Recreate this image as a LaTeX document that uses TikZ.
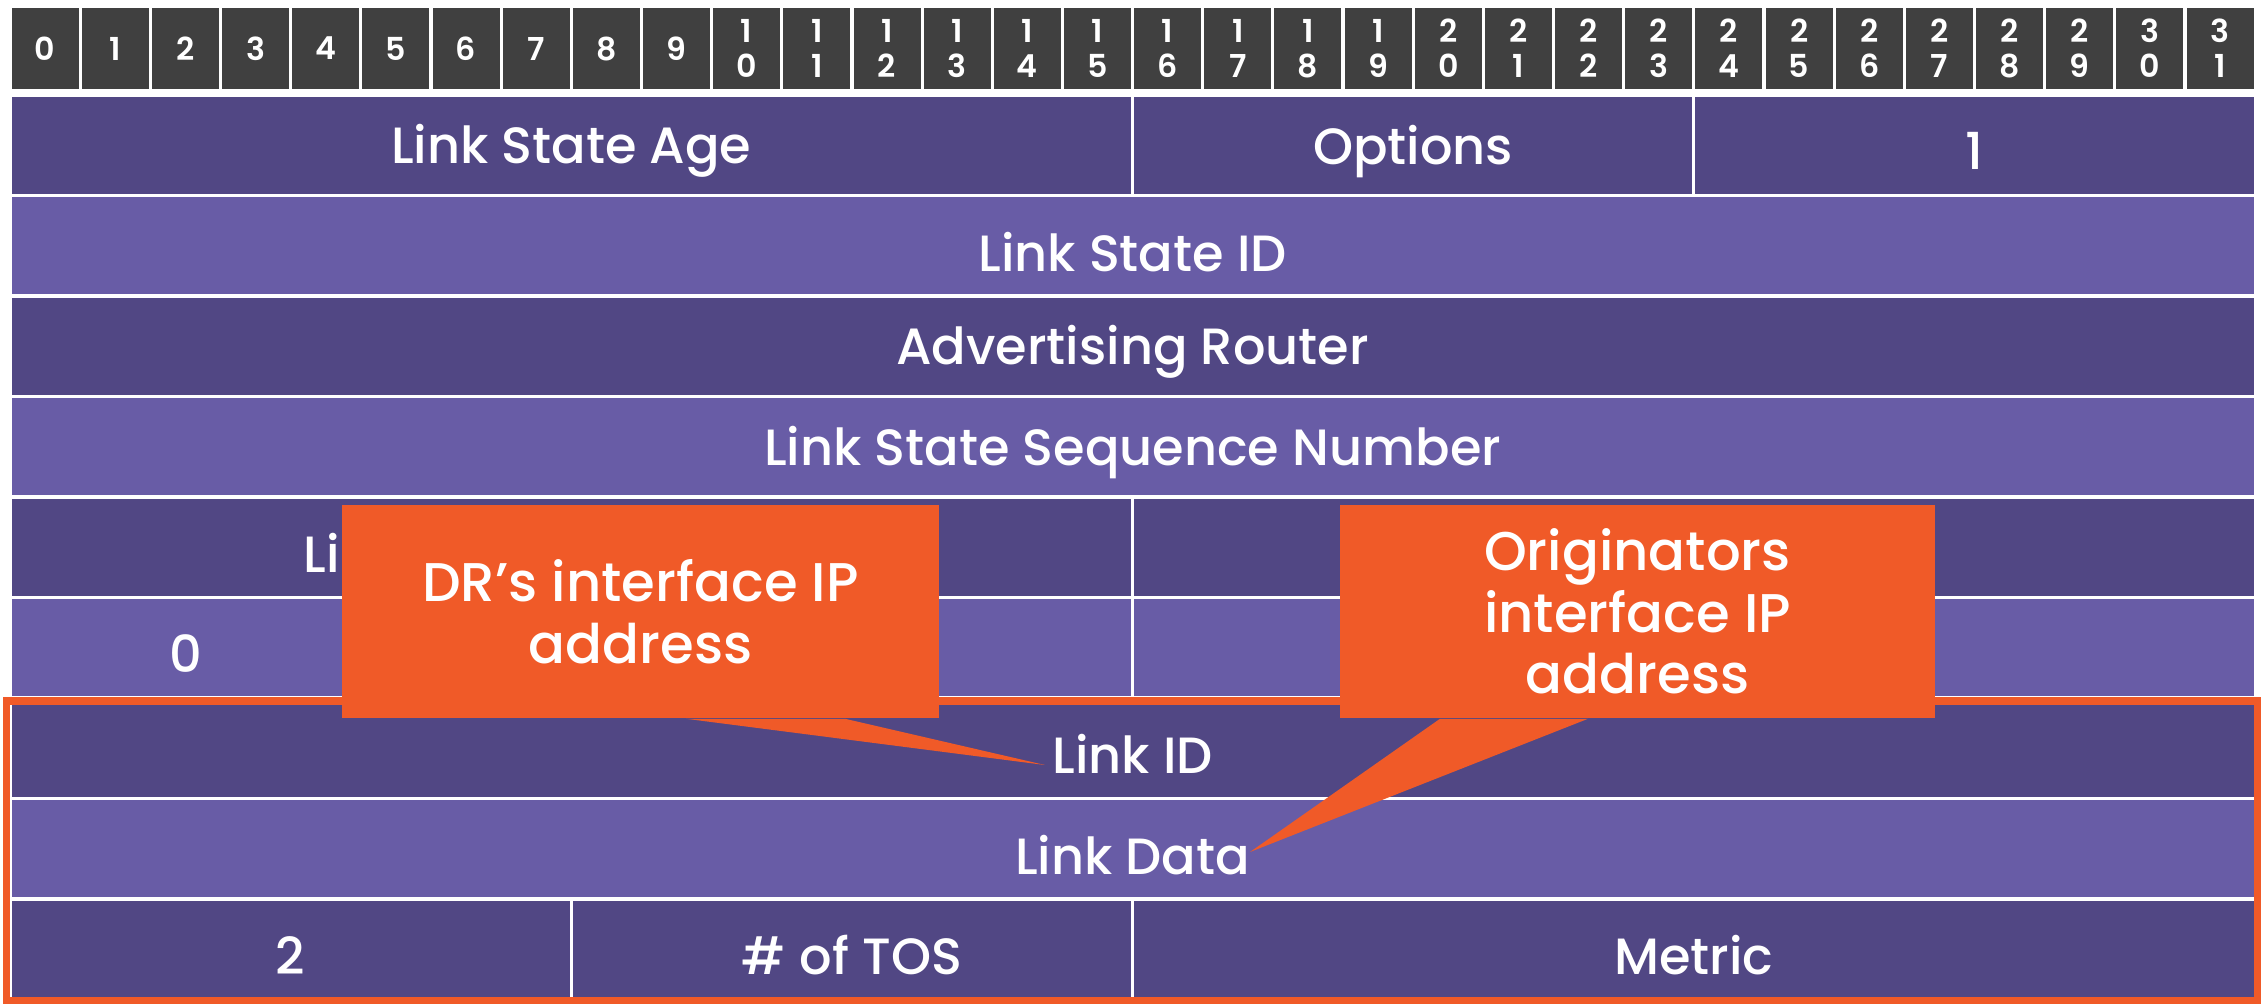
\documentclass[tikz,border=0pt]{standalone}
\usepackage{fontspec}
\setmainfont{Poppins}[UprightFont=* Medium]
\newfontfamily\bitfont{Poppins}[UprightFont=* SemiBold]
\usetikzlibrary{calc}

\definecolor{hdrgrey}{HTML}{404040}
\definecolor{rowdark}{HTML}{514784}
\definecolor{rowlight}{HTML}{685CA6}
\definecolor{notefill}{HTML}{F05A28}

\tikzset{
  bitcell/.style={fill=hdrgrey, draw=white, line width=0.9pt},
  darkrow/.style={fill=rowdark, draw=white, line width=0.9pt},
  lightrow/.style={fill=rowlight, draw=white, line width=0.9pt},
  fieldtext/.style={text=white, yshift=-0.06cm, font=\fontsize{14.5}{17}\selectfont},
  bittext/.style={text=white, font=\bitfont\fontsize{9}{10}\selectfont, align=center},
  callout/.style={fill=notefill},
  notetext/.style={text=white, font=\fontsize{15.5}{17.5}\selectfont, align=center},
}

\begin{document}
\begin{tikzpicture}[x=0.01cm, y=-0.01cm]
  \useasboundingbox (0,0) rectangle (2264,1003);

  %%-- BIT NUMBER HEADER (32 cells, 70.16 wide, y = 6 to 91) --%%
  \foreach \b in {0,...,31} {
    \draw[bitcell] ({10+70.16*\b},6) rectangle ({10+70.16*(\b+1)},91);
  }
  \foreach \b in {0,...,9} {
    \node[bittext] (bit\b) at ({10+70.16*(\b+0.5)},48.5) {\b};
  }
  % two-digit numbers are stacked
  \foreach \b in {10,...,31} {
    \pgfmathtruncatemacro\hi{\b/10}
    \pgfmathtruncatemacro\lo{mod(\b,10)}
    \node[bittext] (bit\b) at ({10+70.16*(\b+0.5)},48.5) {\hi\\\lo};
  }

  %%-- ROW 1 (y = 95 to 195.5) --%%
  \draw[darkrow] (10,95)     rectangle (1132.6,195.5);
  \draw[darkrow] (1132.6,95) rectangle (1693.8,195.5);
  \draw[darkrow] (1693.8,95) rectangle (2255.1,195.5);
  \node[fieldtext] (lsage)   at (571.3,145.25)  {Link State Age};
  \node[fieldtext] (options) at (1413.2,145.25) {Options};
  \node[fieldtext] (lstype)  at (1974.5,145.25) {1};

  %%-- FULL WIDTH ROWS 2 TO 4 --%%
  \draw[lightrow] (10,195.5) rectangle (2255.1,296);
  \node[fieldtext] (lsid) at (1132.6,245.75) {Link State ID};
  \draw[darkrow] (10,296) rectangle (2255.1,396.5);
  \node[fieldtext] (advrtr) at (1132.6,346.25) {Advertising Router};
  \draw[lightrow] (10,396.5) rectangle (2255.1,497);
  \node[fieldtext] (lsseq) at (1132.6,446.75) {Link State Sequence Number};

  %%-- ROW 5 (y = 497 to 597.5) --%%
  \draw[darkrow] (10,497)     rectangle (1132.6,597.5);
  \draw[darkrow] (1132.6,497) rectangle (2255.1,597.5);
  \node[fieldtext] (lscksum) at (571.3,547.25) {Link State Checksum};

  %%-- ROW 6 (y = 597.5 to 698) --%%
  \draw[lightrow] (10,597.5)     rectangle (1132.6,698);
  \draw[lightrow] (1132.6,597.5) rectangle (2255.1,698);
  \node[fieldtext] (zero) at (185.4,647.75) {0};

  %%-- LINK ENTRY (rows 7 to 9) --%%
  \draw[darkrow] (10,698) rectangle (2255.1,798.5);
  \node[fieldtext] (linkid) at (1132.6,748.25) {Link ID};
  \draw[lightrow] (10,798.5) rectangle (2255.1,899);
  \node[fieldtext] (linkdata) at (1132.6,848.75) {Link Data};
  \draw[darkrow] (10,899)     rectangle (571.3,999.5);
  \draw[darkrow] (571.3,899)  rectangle (1132.6,999.5);
  \draw[darkrow] (1132.6,899) rectangle (2255.1,999.5);
  \node[fieldtext] (ltype)  at (290.6,949.25)  {2};
  \node[fieldtext] (numtos) at (851.9,949.25)  {\# of TOS};
  \node[fieldtext] (metric) at (1693.8,949.25) {Metric};

  % orange frame round the link entry
  \draw[notefill, line width=2pt] (6.5,701) rectangle (2257.5,1000.5);

  %%-- CALLOUTS --%%
  \node[callout, notetext, minimum width=5.97cm, minimum height=2.13cm]
    (drnote) at (640.5,611.5) {DR’s interface IP\\address};
  \coordinate (drtip) at (1045,765);
  \fill[callout] ($(drnote.south)+(45.5,0)$) -- (drtip)
    -- ($(drnote.south)+(204.5,0)$) -- cycle;

  \node[callout, notetext, minimum width=5.95cm, minimum height=2.13cm]
    (orignote) at (1637.5,611.5) {Originators\\interface IP\\address};
  \coordinate (origtip) at (1250,852);
  \fill[callout] ($(orignote.south)+(-197.5,0)$) -- (origtip)
    -- ($(orignote.south)+(-49.5,0)$) -- cycle;

\end{tikzpicture}
\end{document}
